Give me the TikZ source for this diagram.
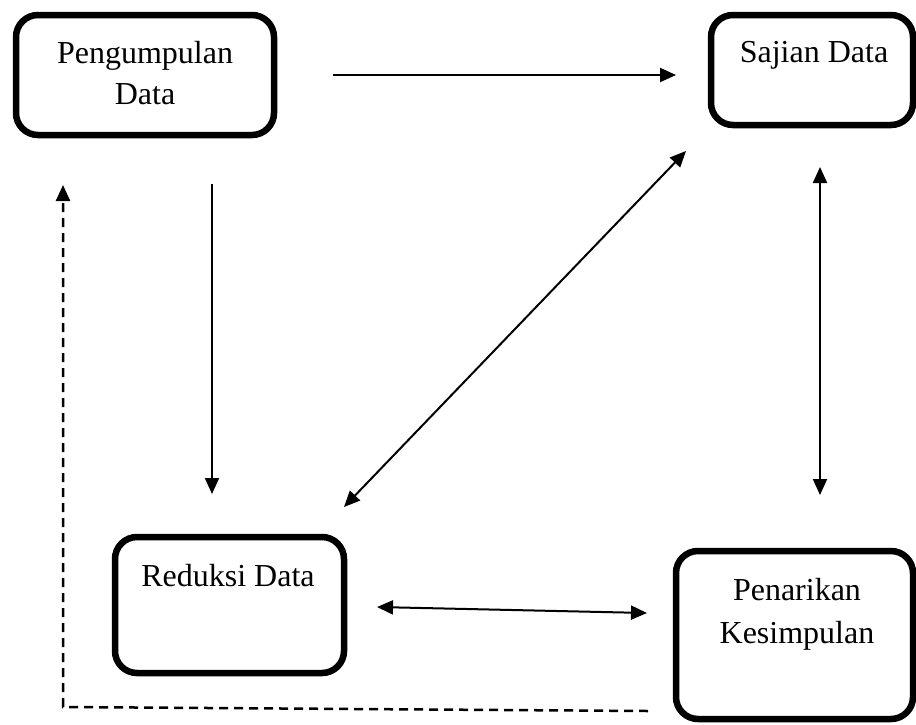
\documentclass[tikz,border=0pt]{standalone}
\usepackage{fontspec}
\setmainfont{Liberation Serif}
\usetikzlibrary{arrows.meta}
\begin{document}
\begin{tikzpicture}[x=1pt,y=-1pt,
  box/.style={draw=black,line width=6.5pt,rounded corners=22pt,rectangle,inner sep=0pt},
  lbl/.style={anchor=base,inner sep=0pt,font=\fontsize{32}{42}\selectfont},
  conn/.style={line width=2pt,-{Triangle[length=16pt,width=14pt]}},
  dconn/.style={line width=2pt,{Triangle[length=16pt,width=14pt]}-{Triangle[length=16pt,width=14pt]}},
  dashconn/.style={line width=2.5pt,dash pattern=on 9pt off 6pt,-{Triangle[length=16pt,width=14pt]}}]
\useasboundingbox (0,0) rectangle (916,724);
% boxes
\node[box,minimum width=258pt,minimum height=120pt] (A) at (145,75) {};
\node[box,minimum width=202pt,minimum height=110pt] (B) at (812,70) {};
\node[box,minimum width=229pt,minimum height=136pt] (C) at (229.5,605) {};
\node[box,minimum width=237pt,minimum height=168pt] (D) at (794.5,635) {};
% labels
\node[lbl] (a1) at (145,63) {Pengumpulan};
\node[lbl] (a2) at (145,104) {Data};
\node[lbl] (b1) at (814,62) {Sajian Data};
\node[lbl] (c1) at (228,586) {Reduksi Data};
\node[lbl] (d1) at (797,600) {Penarikan};
\node[lbl] (d2) at (797,643) {Kesimpulan};
% connector ends
\coordinate (ab1) at (333,75);
\coordinate (ab2) at (676,75);
\coordinate (ac1) at (212,184);
\coordinate (ac2) at (212,494);
\coordinate (bc1) at (686,151);
\coordinate (bc2) at (344,507);
\coordinate (bd1) at (820,167);
\coordinate (bd2) at (820,495);
\coordinate (cd1) at (377,607);
\coordinate (cd2) at (647,613);
\coordinate (da1) at (648,711);
\coordinate (da2) at (63,707);
\coordinate (da3) at (63,185);
% connectors
\draw[conn] (ab1) -- (ab2);
\draw[conn] (ac1) -- (ac2);
\draw[dconn] (bc2) -- (bc1);
\draw[dconn] (bd1) -- (bd2);
\draw[dconn] (cd1) -- (cd2);
\draw[dashconn] (da1) -- (da2) -- (da3);
\end{tikzpicture}
\end{document}
